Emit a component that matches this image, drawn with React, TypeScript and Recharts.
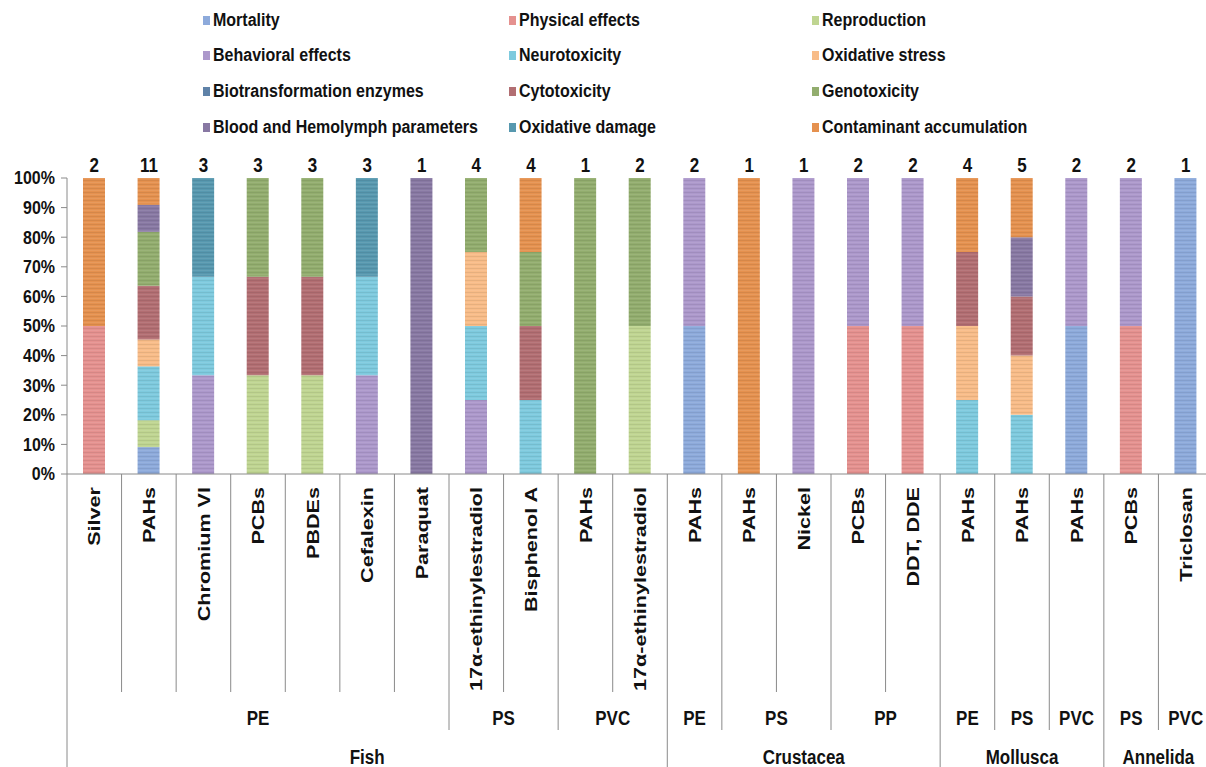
import React from 'react';
import { BarChart, Bar, XAxis, YAxis } from 'recharts';

// ---------- data ----------
const categories = [
  'Silver', 'PAHs', 'Chromium VI', 'PCBs', 'PBDEs', 'Cefalexin', 'Paraquat',
  '17α-ethinylestradiol', 'Bisphenol A', 'PAHs', '17α-ethinylestradiol',
  'PAHs', 'PAHs', 'Nickel', 'PCBs', 'DDT, DDE',
  'PAHs', 'PAHs', 'PAHs',
  'PCBs', 'Triclosan',
];
const materials = [
  'PE', 'PE', 'PE', 'PE', 'PE', 'PE', 'PE', 'PS', 'PS', 'PVC', 'PVC',
  'PE', 'PS', 'PS', 'PP', 'PP',
  'PE', 'PS', 'PVC',
  'PS', 'PVC',
];
const organisms = [
  'Fish', 'Fish', 'Fish', 'Fish', 'Fish', 'Fish', 'Fish', 'Fish', 'Fish', 'Fish', 'Fish',
  'Crustacea', 'Crustacea', 'Crustacea', 'Crustacea', 'Crustacea',
  'Mollusca', 'Mollusca', 'Mollusca',
  'Annelida', 'Annelida',
];

// number of studies per effect and contaminant
const mortality =       [0, 1, 0, 0, 0, 0, 0, 0, 0, 0, 0, 1, 0, 0, 0, 0, 0, 0, 1, 0, 1];
const physicalEffects = [1, 0, 0, 0, 0, 0, 0, 0, 0, 0, 0, 0, 0, 0, 1, 1, 0, 0, 0, 1, 0];
const reproduction =    [0, 1, 0, 1, 1, 0, 0, 0, 0, 0, 1, 0, 0, 0, 0, 0, 0, 0, 0, 0, 0];
const behavioral =      [0, 0, 1, 0, 0, 1, 0, 1, 0, 0, 0, 1, 0, 1, 1, 1, 0, 0, 1, 1, 0];
const neurotoxicity =   [0, 2, 1, 0, 0, 1, 0, 1, 1, 0, 0, 0, 0, 0, 0, 0, 1, 1, 0, 0, 0];
const oxidativeStress = [0, 1, 0, 0, 0, 0, 0, 1, 0, 0, 0, 0, 0, 0, 0, 0, 1, 1, 0, 0, 0];
const biotransformation=[0, 0, 0, 0, 0, 0, 0, 0, 0, 0, 0, 0, 0, 0, 0, 0, 0, 0, 0, 0, 0];
const cytotoxicity =    [0, 2, 0, 1, 1, 0, 0, 0, 1, 0, 0, 0, 0, 0, 0, 0, 1, 1, 0, 0, 0];
const genotoxicity =    [0, 2, 0, 1, 1, 0, 0, 1, 1, 1, 1, 0, 0, 0, 0, 0, 0, 0, 0, 0, 0];
const bloodHemolymph =  [0, 1, 0, 0, 0, 0, 1, 0, 0, 0, 0, 0, 0, 0, 0, 0, 0, 1, 0, 0, 0];
const oxidativeDamage = [0, 0, 1, 0, 0, 1, 0, 0, 0, 0, 0, 0, 0, 0, 0, 0, 0, 0, 0, 0, 0];
const contaminantAcc =  [1, 1, 0, 0, 0, 0, 0, 0, 1, 0, 0, 0, 1, 0, 0, 0, 1, 1, 0, 0, 0];

const yTicks = [0, 0.1, 0.2, 0.3, 0.4, 0.5, 0.6, 0.7, 0.8, 0.9, 1];

const seriesDefs = [
  { key: 'mortality', label: 'Mortality', color: '#8DAADB', values: mortality },
  { key: 'physical', label: 'Physical effects', color: '#E5918F', values: physicalEffects },
  { key: 'reproduction', label: 'Reproduction', color: '#BFD591', values: reproduction },
  { key: 'behavioral', label: 'Behavioral effects', color: '#AC98CB', values: behavioral },
  { key: 'neuro', label: 'Neurotoxicity', color: '#7ECADE', values: neurotoxicity },
  { key: 'oxStress', label: 'Oxidative stress', color: '#F8BC88', values: oxidativeStress },
  { key: 'biotrans', label: 'Biotransformation enzymes', color: '#5F82A8', values: biotransformation },
  { key: 'cyto', label: 'Cytotoxicity', color: '#B26E72', values: cytotoxicity },
  { key: 'geno', label: 'Genotoxicity', color: '#92AD6E', values: genotoxicity },
  { key: 'blood', label: 'Blood and Hemolymph parameters', color: '#8878A3', values: bloodHemolymph },
  { key: 'oxDamage', label: 'Oxidative damage', color: '#5798AF', values: oxidativeDamage },
  { key: 'contaminant', label: 'Contaminant accumulation', color: '#E5914F', values: contaminantAcc },
];

const data = categories.map((name, i) => {
  const row: any = { name, material: materials[i], organism: organisms[i] };
  let total = 0;
  seriesDefs.forEach((s) => {
    row[s.key] = s.values[i];
    total += s.values[i];
  });
  row.total = total;
  return row;
});

// ---------- layout ----------
const CHART_W = 1213;
const CHART_H = 767;
const Y_W = 67;
const MARGIN_TOP = 148;
const TOP_AXIS_H = 30;
const BOTTOM_AXIS_H = 293;
const BAND = (CHART_W - Y_W) / categories.length;
const DEPTH_BAR = 218;
const DEPTH_MATERIAL = 256;
const DEPTH_ORGANISM = 293;
const FONT = '"Liberation Sans", Arial, Helvetica, sans-serif';
const LINE = '#8a8a8a';
const TEXT = '#111';
const STRETCH = 1.15;

const StretchText = ({ x, y, anchor, size, children }: any) => (
  <text
    transform={`translate(${x},${y}) scale(1,${STRETCH})`}
    textAnchor={anchor}
    dominantBaseline="central"
    fontFamily={FONT}
    fontWeight="bold"
    fontSize={size}
    fill={TEXT}
  >
    {children}
  </text>
);

const CategoryTick = (props: any) => {
  const { x, y, payload } = props;
  const i: number = props.index ?? payload.index;
  const left = x - BAND / 2;
  const newOrg = i === 0 || organisms[i] !== organisms[i - 1];
  const newMat = newOrg || materials[i] !== materials[i - 1];
  const depth = newOrg ? DEPTH_ORGANISM : newMat ? DEPTH_MATERIAL : DEPTH_BAR;

  let matLabel = null;
  if (newMat) {
    let n = 1;
    while (
      i + n < categories.length &&
      materials[i + n] === materials[i] &&
      organisms[i + n] === organisms[i]
    ) n++;
    matLabel = (
      <StretchText x={left + (n * BAND) / 2} y={y + 244} anchor="middle" size={17}>
        {materials[i]}
      </StretchText>
    );
  }
  let orgLabel = null;
  if (newOrg) {
    let n = 1;
    while (i + n < categories.length && organisms[i + n] === organisms[i]) n++;
    orgLabel = (
      <StretchText x={left + (n * BAND) / 2} y={y + 283} anchor="middle" size={17}>
        {organisms[i]}
      </StretchText>
    );
  }

  return (
    <g>
      <line x1={left} x2={left} y1={y} y2={y + depth} stroke={LINE} strokeWidth={1} />
      <text
        transform={`translate(${x},${y + 13}) rotate(-90) scale(1.27,1)`}
        textAnchor="end"
        dy="0.36em"
        fontFamily={FONT}
        fontWeight="bold"
        fontSize={17}
        fill={TEXT}
      >
        {payload.value}
      </text>
      {matLabel}
      {orgLabel}
    </g>
  );
};

const TotalTick = (props: any) => {
  const { x, y } = props;
  const i: number = props.index ?? props.payload.index;
  return (
    <StretchText x={x} y={y - 13} anchor="middle" size={17}>
      {data[i]?.total}
    </StretchText>
  );
};

const PercentTick = (props: any) => {
  const { x, y, payload } = props;
  return (
    <StretchText x={x} y={y} anchor="end" size={16}>
      {`${Math.round(payload.value * 100)}%`}
    </StretchText>
  );
};

const Legend = () => {
  const colX = [203, 509, 812];
  const rowY = [20, 55, 91, 127];
  return (
    <div style={{ position: 'absolute', left: 0, top: 0, width: 1206, height: 145, pointerEvents: 'none' }}>
      {seriesDefs.map((s, idx) => {
        const col = idx % 3;
        const row = Math.floor(idx / 3);
        return (
          <div
            key={s.key}
            style={{
              position: 'absolute',
              left: colX[col],
              top: rowY[row] - 11,
              height: 22,
              display: 'flex',
              alignItems: 'center',
              whiteSpace: 'nowrap',
              fontFamily: FONT,
              fontWeight: 'bold',
              fontSize: 16,
              color: TEXT,
            }}
          >
            <span style={{ display: 'inline-block', width: 7, height: 9, background: s.color, marginRight: 3 }} />
            <span style={{ display: 'inline-block', transform: `scaleY(${STRETCH})` }}>{s.label}</span>
          </div>
        );
      })}
    </div>
  );
};

export default function App() {
  return (
    <div style={{ position: 'absolute', left: 0, top: 0, width: 1206, height: 767, overflow: 'hidden', background: '#fff' }}>
      <BarChart
        width={CHART_W}
        height={CHART_H}
        data={data}
        stackOffset="expand"
        margin={{ top: MARGIN_TOP, right: 0, bottom: 0, left: 0 }}
      >
        <defs>
          {seriesDefs.map((s) => (
            <pattern key={s.key} id={`stripe-${s.key}`} width={6} height={4} patternUnits="userSpaceOnUse">
              <rect x={0} y={0} width={6} height={4} fill={s.color} />
              <rect x={0} y={0} width={6} height={1} fill="#000" fillOpacity={0.07} />
              <rect x={0} y={2} width={6} height={1} fill="#fff" fillOpacity={0.08} />
            </pattern>
          ))}
        </defs>
        <XAxis
          dataKey="name"
          xAxisId={0}
          height={BOTTOM_AXIS_H}
          interval={0}
          tickSize={0}
          tickMargin={0}
          tickLine={false}
          axisLine={{ stroke: LINE }}
          tick={<CategoryTick />}
        />
        <XAxis
          dataKey="name"
          xAxisId="top"
          orientation="top"
          height={TOP_AXIS_H}
          interval={0}
          tickSize={0}
          tickMargin={0}
          tickLine={false}
          axisLine={false}
          tick={<TotalTick />}
        />
        <YAxis
          width={Y_W}
          domain={[0, 1]}
          ticks={yTicks}
          tickSize={6}
          tickMargin={6}
          tickLine={{ stroke: LINE }}
          axisLine={{ stroke: LINE }}
          tick={<PercentTick />}
        />
        {seriesDefs.map((s) => (
          <Bar
            key={s.key}
            dataKey={s.key}
            name={s.label}
            stackId="a"
            fill={`url(#stripe-${s.key})`}
            barSize={22}
            isAnimationActive={false}
          />
        ))}
      </BarChart>
      <Legend />
    </div>
  );
}
